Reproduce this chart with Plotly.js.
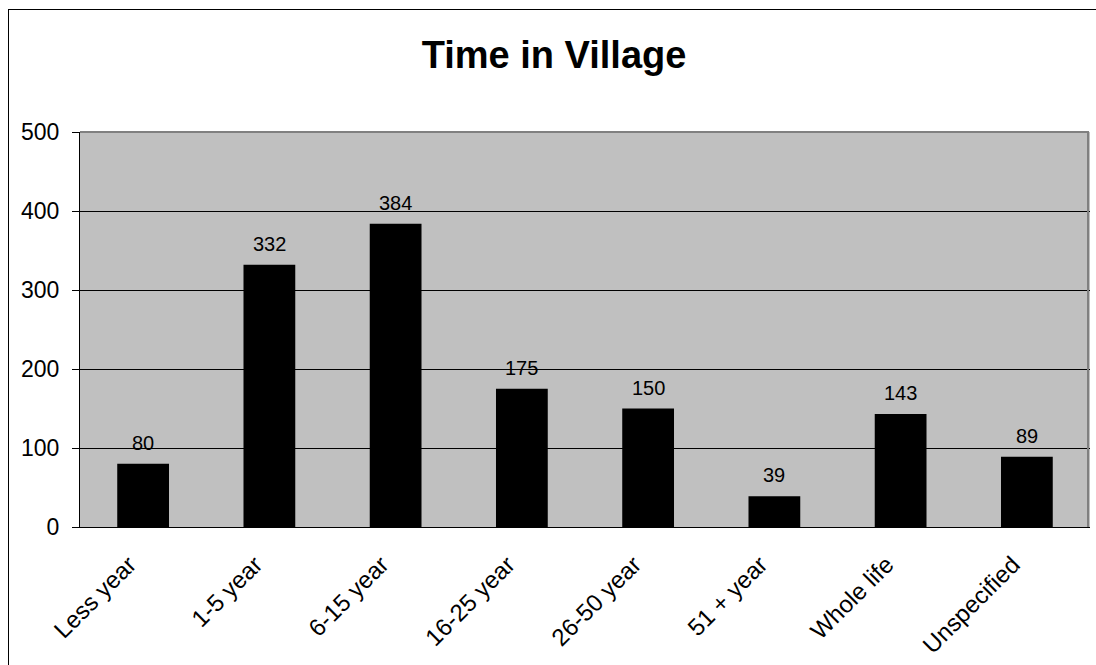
<!DOCTYPE html>
<html>
<head>
<meta charset="utf-8">
<script src="https://cdn.plot.ly/plotly-3.0.1.min.js"></script>
<style>
html,body{margin:0;padding:0;background:#fff;overflow:hidden;}
#wrap{position:relative;width:1096px;height:665px;overflow:hidden;}
#chart{width:1096px;height:665px;}
#frame{position:absolute;left:8px;top:9px;width:3000px;height:3000px;border-left:1.5px solid #000;border-top:1.5px solid #000;pointer-events:none;}
#plotedge{position:absolute;left:80px;top:131px;width:1009px;height:396px;border-top:2px solid #808080;border-right:2px solid #808080;pointer-events:none;box-sizing:border-box;}
</style>
</head>
<body>
<div id="wrap"><div id="chart"></div><div id="frame"></div><div id="plotedge"></div></div>
<script>
const categories = ["Less year", "1-5 year", "6-15 year", "16-25 year", "26-50 year", "51 + year", "Whole life", "Unspecified"];
const counts = [80, 332, 384, 175, 150, 39, 143, 89];
const yTicks = [0, 100, 200, 300, 400, 500];
const chartTitle = "Time in Village";

const FONT = "Liberation Sans, Arial, Helvetica, sans-serif";

const trace = {
  type: "bar",
  x: categories,
  y: counts,
  width: 0.41,
  marker: {color: "#000000", line: {width: 0}},
  hoverinfo: "x+y"
};

const labels = categories.map((c, i) => ({
  x: c, y: counts[i], xref: "x", yref: "y",
  text: String(counts[i]), showarrow: false,
  yanchor: "bottom", yshift: 8,
  font: {family: FONT, size: 20, color: "#000"}
}));

const layout = {
  width: 1096, height: 665,
  margin: {l: 80, r: 6, t: 132, b: 138, pad: 0},
  paper_bgcolor: "#ffffff",
  plot_bgcolor: "#c0c0c0",
  showlegend: false,
  title: {
    text: "<b>" + chartTitle + "</b>",
    font: {family: FONT, size: 38, color: "#000"},
    xref: "container", yref: "container",
    x: 0.5055, xanchor: "center",
    y: 1 - 55/665, yanchor: "middle"
  },
  xaxis: {
    type: "category",
    tickangle: -45,
    showline: true, linecolor: "#000", linewidth: 1,
    ticks: "", showgrid: false, zeroline: false,
    tickfont: {family: FONT, size: 24, color: "#000"},
    ticklabelstandoff: 13,
    ticklabelshift: -14
  },
  yaxis: {
    range: [0, 500],
    tickvals: yTicks,
    ticktext: yTicks.map(String),
    showline: true, linecolor: "#000", linewidth: 1,
    ticks: "outside", ticklen: 7, tickcolor: "#000", tickwidth: 1,
    showgrid: true, gridcolor: "#000", gridwidth: 1,
    zeroline: false,
    tickfont: {family: FONT, size: 23, color: "#000"},
    ticklabelstandoff: 8
  },
  annotations: labels
};

Plotly.newPlot("chart", [trace], layout, {displayModeBar: false, staticPlot: true});
</script>
</body>
</html>
